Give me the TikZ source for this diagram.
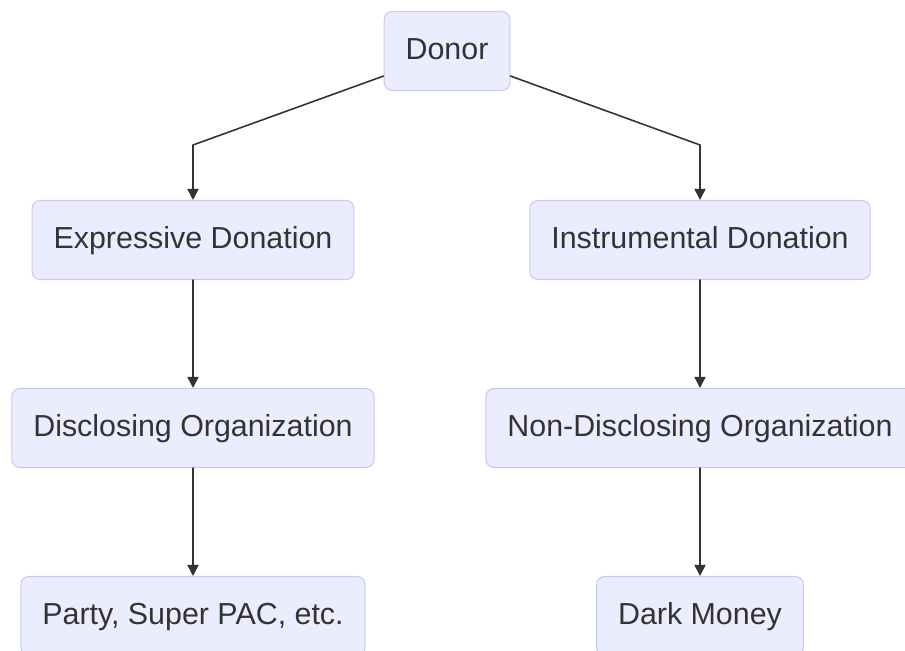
\documentclass[tikz,border=0pt]{standalone}
\usepackage{fontspec}
\setmainfont{Liberation Sans}
\usetikzlibrary{arrows.meta}
\definecolor{boxfill}{HTML}{ECECFF}
\definecolor{boxline}{HTML}{CBC6F7}
\definecolor{ink}{HTML}{333333}
\begin{document}
\begin{tikzpicture}[x=0.02cm,y=-0.02cm,line cap=round,line join=round,
  box/.style={draw=boxline,fill=boxfill,line width=0.6pt,rounded corners=0.16cm,minimum height=1.58cm,inner xsep=0.43cm,text height=0.98em,text depth=0pt,text=ink,font=\fontsize{17.3}{20}\selectfont},
  edge/.style={draw=ink,line width=0.9pt,-{Triangle[length=0.22cm,width=0.22cm]}}]
\useasboundingbox (0,0) rectangle (905,651);
\node[box] (donor) at (447,51) {Donor};
\node[box] (expr) at (193,240) {Expressive Donation};
\node[box] (instr) at (700,240) {Instrumental Donation};
\node[box] (disc) at (193,428) {Disclosing Organization};
\node[box] (nondisc) at (700,428) {Non-Disclosing Organization};
\node[box] (party) at (193,616) {Party, Super PAC, etc.};
\node[box] (dark) at (700,616) {Dark Money};
\coordinate (lbend) at (193,145);\coordinate (rbend) at (700,145);
\draw[edge] ([yshift=0.3cm]donor.south west)--(lbend)--(expr.north);
\draw[edge] ([yshift=0.3cm]donor.south east)--(rbend)--(instr.north);
\foreach \a/\b in {expr/disc,disc/party,instr/nondisc,nondisc/dark}{\draw[edge] (\a.south)--(\b.north);}
\end{tikzpicture}
\end{document}
